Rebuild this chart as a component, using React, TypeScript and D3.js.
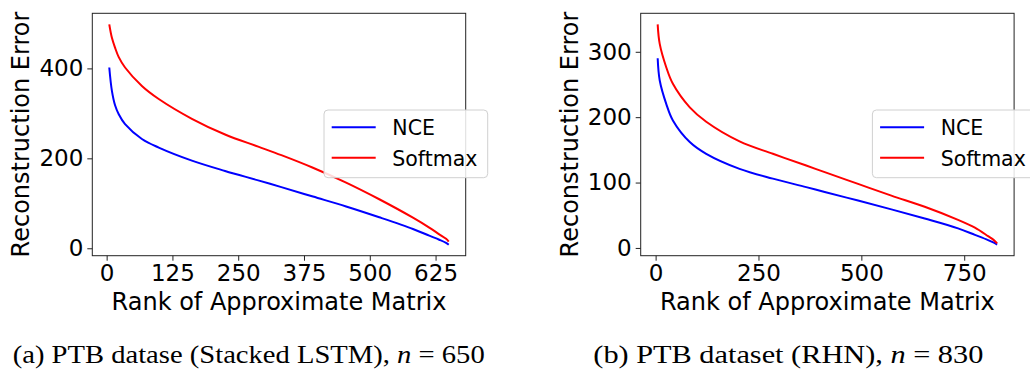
import { useEffect, useRef } from 'react';
import * as d3 from 'd3';

// (a) PTB, Stacked LSTM, n = 650
const ranksA = [5, 10, 16, 23, 35, 67, 99, 162, 225, 288, 332, 392, 455, 518, 582, 613, 632, 645, 650];
const nceA = [402, 350, 318, 298, 276, 243, 224, 195, 172, 151, 136, 115, 93, 69, 43, 28, 19, 12, 8];
const softmaxA = [498, 468, 446, 425, 402, 361, 332, 288, 253, 226, 207, 179, 146, 109, 68, 46, 31, 21, 15];
const xTicksA = [0, 125, 250, 375, 500, 625];
const yTicksA = [0, 200, 400];

// (b) PTB, RHN, n = 830
const ranksB = [5, 10, 26, 42, 83, 123, 204, 285, 366, 411, 492, 573, 654, 735, 776, 808, 822, 830];
const nceB = [290, 256, 220, 195, 162, 144, 121, 106, 93, 85.5, 72.5, 59, 45, 30, 20, 12, 8, 5];
const softmaxB = [342, 312, 276, 251, 215, 193, 163, 144, 126, 116, 98, 80, 63, 43, 31, 18, 12, 7];
const xTicksB = [0, 250, 500, 750];
const yTicksB = [0, 100, 200, 300];

const seriesNames = ['NCE', 'Softmax'];
const seriesColors = ['#0000ff', '#ff0000'];

const panels = [
    { offset: 0, ranks: ranksA, series: [nceA, softmaxA], xTicks: xTicksA, yTicks: yTicksA },
    { offset: 548.4, ranks: ranksB, series: [nceB, softmaxB], xTicks: xTicksB, yTicks: yTicksB },
];

const captions = [
    { x: 12.7, width: 472, text: '(a) PTB datase (Stacked LSTM), ', n: '650' },
    { x: 593.3, width: 390, text: '(b) PTB dataset (RHN), ', n: '830' },
];

export default function App() {
    const ref = useRef<SVGSVGElement>(null);

    useEffect(() => {
        if (!ref.current) return;
        const svg = d3.select(ref.current);
        svg.selectAll('*').remove();

        const frame = { left: 92.3, top: 13.3, width: 373.4, height: 242.4 };
        const font = 'DejaVu Sans, sans-serif';

        panels.forEach((p) => {
            const g = svg.append('g').attr('transform', `translate(${p.offset},0)`);

            // matplotlib style 5% margins around the data
            const [x0, x1] = d3.extent(p.ranks) as [number, number];
            const allY = p.series.flat();
            const y0 = d3.min(allY) as number;
            const y1 = d3.max(allY) as number;
            const mx = (x1 - x0) * 0.05;
            const my = (y1 - y0) * 0.05;

            const xScale = d3.scaleLinear()
                .domain([x0 - mx, x1 + mx])
                .range([frame.left, frame.left + frame.width]);
            const yScale = d3.scaleLinear()
                .domain([y0 - my, y1 + my])
                .range([frame.top + frame.height, frame.top]);

            // curves
            const line = d3.line<number>()
                .x((_, i) => xScale(p.ranks[i]))
                .y(d => yScale(d))
                .curve(d3.curveCatmullRom.alpha(0.5));

            p.series.forEach((s, i) => {
                g.append('path')
                    .datum(s)
                    .attr('fill', 'none')
                    .attr('stroke', seriesColors[i])
                    .attr('stroke-width', 2)
                    .attr('d', line);
            });

            // axes
            const xAxis = g.append('g')
                .attr('transform', `translate(0,${frame.top + frame.height})`)
                .call(d3.axisBottom(xScale).tickValues(p.xTicks).tickSize(5).tickPadding(4.3).tickFormat(d3.format('d')));
            const yAxis = g.append('g')
                .attr('transform', `translate(${frame.left},0)`)
                .call(d3.axisLeft(yScale).tickValues(p.yTicks).tickSize(5).tickPadding(4).tickFormat(d3.format('d')));

            [xAxis, yAxis].forEach(a => {
                a.select('.domain').remove();
                a.selectAll('line').attr('stroke', '#222').attr('stroke-width', 1);
                a.selectAll('text')
                    .attr('fill', '#000')
                    .style('font-family', font)
                    .style('font-size', '23px');
            });

            // frame
            g.append('rect')
                .attr('x', frame.left)
                .attr('y', frame.top)
                .attr('width', frame.width)
                .attr('height', frame.height)
                .attr('fill', 'none')
                .attr('stroke', '#222')
                .attr('stroke-width', 1);

            // axis labels
            g.append('text')
                .attr('x', frame.left + frame.width / 2)
                .attr('y', 310)
                .attr('text-anchor', 'middle')
                .style('font-family', font)
                .style('font-size', '24px')
                .text('Rank of Approximate Matrix');

            g.append('text')
                .attr('transform', `translate(29.3,${frame.top + frame.height / 2}) rotate(-90)`)
                .attr('text-anchor', 'middle')
                .style('font-family', font)
                .style('font-size', '24px')
                .text('Reconstruction Error');

            // legend
            const lg = g.append('g').attr('transform', `translate(${frame.left + 231.7},110)`);
            lg.append('rect')
                .attr('width', 163.7)
                .attr('height', 67.7)
                .attr('rx', 4)
                .attr('fill', 'white')
                .attr('fill-opacity', 0.85)
                .attr('stroke', '#d0d0d0')
                .attr('stroke-width', 1);

            seriesNames.forEach((name, i) => {
                const ly = 17.3 + i * 30.4;
                lg.append('line')
                    .attr('x1', 7.7)
                    .attr('x2', 51.7)
                    .attr('y1', ly)
                    .attr('y2', ly)
                    .attr('stroke', seriesColors[i])
                    .attr('stroke-width', 2);
                lg.append('text')
                    .attr('x', 68.3)
                    .attr('y', ly + 7.8)
                    .style('font-family', font)
                    .style('font-size', '20.5px')
                    .text(name);
            });
        });

        // captions
        captions.forEach(c => {
            const t = svg.append('text')
                .attr('x', c.x)
                .attr('y', 363.3)
                .attr('textLength', c.width)
                .attr('lengthAdjust', 'spacingAndGlyphs')
                .style('font-family', 'Liberation Serif, serif')
                .style('font-size', '26px');
            t.append('tspan').text(c.text);
            t.append('tspan').style('font-style', 'italic').text('n');
            t.append('tspan').text(` = ${c.n}`);
        });
    }, [ref]);

    return (
        <svg
            ref={ref}
            width={1030}
            height={376}
            style={{ position: 'absolute', left: 0, top: 0, background: 'white' }}
        />
    );
}
